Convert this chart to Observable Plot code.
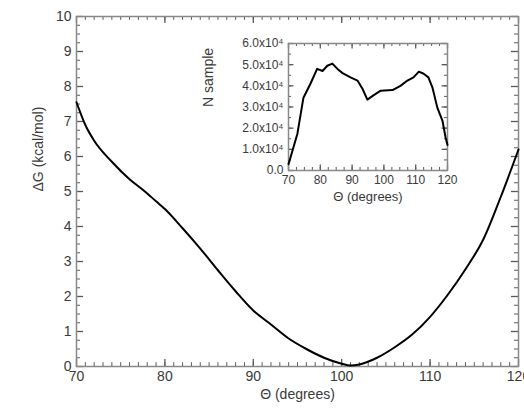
<!DOCTYPE html>
<html>
<head>
<meta charset="utf-8">
<script src="https://cdn.jsdelivr.net/npm/d3@7"></script>
<script src="https://cdn.jsdelivr.net/npm/@observablehq/plot@0.6"></script>
<style>
  body { margin: 0; background: white; }
  #wrap { position: relative; width: 524px; height: 410px; }
  #inset { position: absolute; left: 200px; top: 30px; }
</style>
</head>
<body>
<div id="wrap"><div id="main"></div><div id="inset"></div></div>
<script>
// Main curve: free energy vs angle
const theta = [70, 71, 72, 74, 76, 77.6, 79, 80, 82, 84, 86, 88, 90, 92, 94, 96, 98, 100, 101, 102, 104, 106, 108, 110, 112, 114, 116, 118, 120];
const deltaG = [7.55, 6.9, 6.45, 5.85, 5.35, 5.03, 4.72, 4.5, 3.95, 3.37, 2.75, 2.15, 1.6, 1.2, 0.8, 0.5, 0.25, 0.08, 0.03, 0.06, 0.25, 0.55, 0.92, 1.42, 2.05, 2.78, 3.62, 4.85, 6.2];

// Inset: sample counts vs angle (units of 10^4)
const insetTheta = [70, 70.6, 72.8, 74.7, 76.9, 79, 80.7, 82.2, 83.8, 85.4, 87, 89.5, 91.7, 93.3, 94.8, 96.7, 99, 102.7, 105.2, 107.4, 109.3, 111, 112.5, 114, 115.3, 116.8, 118.4, 119.4, 120];
const nSample = [0.3, 0.6, 1.74, 3.44, 4.1, 4.8, 4.7, 4.95, 5.05, 4.8, 4.6, 4.4, 4.25, 3.85, 3.35, 3.55, 3.77, 3.8, 4.0, 4.25, 4.4, 4.67, 4.57, 4.4, 3.9, 2.97, 2.36, 1.56, 1.2];

// Tick values
const mainXMajor = [70, 80, 90, 100, 110, 120];
const mainYMajor = [0, 1, 2, 3, 4, 5, 6, 7, 8, 9, 10];
const mainXMinor = d3.range(70, 120.01, 1);
const mainYMinor = d3.range(0, 10.01, 0.25);
const insetXMajor = [70, 80, 90, 100, 110, 120];
const insetYMajor = [0, 1, 2, 3, 4, 5, 6];
const insetYLabels = ["0.0", "1.0x10⁴", "2.0x10⁴", "3.0x10⁴", "4.0x10⁴", "5.0x10⁴", "6.0x10⁴"];
const insetXMinor = d3.range(70, 120.01, 2.5);
const insetYMinor = d3.range(0, 6.01, 0.5);

const font = "'Liberation Sans', Arial, Helvetica, sans-serif";
const axisCol = "#888888";
const tickCol = "#5a5a5a";
const textCol = "#3a3a3a";

// tick marks drawn inward on all four sides; lengths given in data units of each axis
function frameTicks(o) {
  const {xMajor, xMinor, yMajor, yMinor, x0, x1, y0, y1, xBig, xSmall, yBig, ySmall} = o;
  return [
    Plot.ruleX(xMinor, {x: d => d, y1: y0, y2: y0 + ySmall, stroke: tickCol}),
    Plot.ruleX(xMajor, {x: d => d, y1: y0, y2: y0 + yBig, stroke: tickCol, strokeWidth: 1.3}),
    Plot.ruleX(xMinor, {x: d => d, y1: y1, y2: y1 - ySmall, stroke: tickCol}),
    Plot.ruleX(xMajor, {x: d => d, y1: y1, y2: y1 - yBig, stroke: tickCol, strokeWidth: 1.3}),
    Plot.ruleY(yMinor, {y: d => d, x1: x0, x2: x0 + xSmall, stroke: tickCol}),
    Plot.ruleY(yMajor, {y: d => d, x1: x0, x2: x0 + xBig, stroke: tickCol, strokeWidth: 1.3}),
    Plot.ruleY(yMinor, {y: d => d, x1: x1, x2: x1 - xSmall, stroke: tickCol}),
    Plot.ruleY(yMajor, {y: d => d, x1: x1, x2: x1 - xBig, stroke: tickCol, strokeWidth: 1.3}),
    Plot.frame({stroke: axisCol, strokeWidth: 1.5})
  ];
}

const mainPlot = Plot.plot({
  width: 524, height: 410,
  marginLeft: 76, marginRight: 6, marginTop: 16, marginBottom: 44,
  style: {fontFamily: font, fontSize: "14px", color: textCol, background: "white", overflow: "hidden"},
  x: {domain: [70, 120]},
  y: {domain: [0, 10]},
  marks: [
    Plot.axisX({ticks: mainXMajor, tickSize: 0, tickPadding: 5, label: null, fontSize: 14}),
    Plot.axisY({ticks: mainYMajor, tickSize: 0, tickPadding: 5, label: null, fontSize: 14}),
    ...frameTicks({xMajor: mainXMajor, xMinor: mainXMinor, yMajor: mainYMajor, yMinor: mainYMinor,
      x0: 70, x1: 120, y0: 0, y1: 10, xBig: 0.8, xSmall: 0.45, yBig: 0.2, ySmall: 0.11}),
    Plot.text(["Θ (degrees)"], {frameAnchor: "bottom", dy: 32, fontSize: 14, fill: textCol, ariaLabel: "xlabel"}),
    Plot.text(["ΔG (kcal/mol)"], {frameAnchor: "left", dx: -38, rotate: -90, fontSize: 14, fill: textCol, ariaLabel: "ylabel"}),
    Plot.line(theta.map((t, i) => ({t, g: deltaG[i]})), {x: "t", y: "g", stroke: "black", strokeWidth: 2, curve: "monotone-x"})
  ]
});
document.getElementById("main").append(mainPlot);

const insetPlot = Plot.plot({
  width: 255, height: 180,
  marginLeft: 88, marginRight: 8, marginTop: 13, marginBottom: 40,
  style: {fontFamily: font, fontSize: "12px", color: textCol, background: "transparent", overflow: "visible"},
  x: {domain: [70, 120]},
  y: {domain: [0, 6]},
  marks: [
    Plot.axisX({ticks: insetXMajor, tickSize: 0, tickPadding: 5, label: null, fontSize: 12}),
    Plot.axisY({ticks: insetYMajor, tickSize: 0, tickPadding: 5, label: null, fontSize: 12, tickFormat: d => insetYLabels[d]}),
    ...frameTicks({xMajor: insetXMajor, xMinor: insetXMinor, yMajor: insetYMajor, yMinor: insetYMinor,
      x0: 70, x1: 120, y0: 0, y1: 6, xBig: 1.7, xSmall: 0.95, yBig: 0.26, ySmall: 0.14}),
    Plot.text(["Θ (degrees)"], {frameAnchor: "bottom", dy: 30, fontSize: 13, fill: textCol, ariaLabel: "xlabel"}),
    Plot.text(["N sample"], {frameAnchor: "left", dx: -80, rotate: -90, fontSize: 14, fill: textCol, ariaLabel: "ylabel"}),
    Plot.line(insetTheta.map((t, i) => ({t, n: nSample[i]})), {x: "t", y: "n", stroke: "black", strokeWidth: 2})
  ]
});
document.getElementById("inset").append(insetPlot);

// Mixed-style labels (italic symbols, subscript)
function restyle(svg, label, parts) {
  const t = d3.select(svg).select(`g[aria-label="${label}"] text`);
  if (t.empty()) return;
  t.text(null);
  for (const p of parts) {
    const s = t.append("tspan").text(p.text);
    if (p.italic) s.attr("font-style", "italic");
    if (p.dy) s.attr("dy", p.dy);
    if (p.size) s.attr("font-size", p.size);
  }
}
restyle(mainPlot, "xlabel", [{text: "Θ", italic: true}, {text: " (degrees)"}]);
restyle(mainPlot, "ylabel", [{text: "Δ"}, {text: "G", italic: true}, {text: " (kcal/mol)"}]);
restyle(insetPlot, "xlabel", [{text: "Θ", italic: true}, {text: " (degrees)"}]);
restyle(insetPlot, "ylabel", [{text: "N", italic: true}, {text: "sample", dy: "0.35em", size: 9}]);
</script>
</body>
</html>
